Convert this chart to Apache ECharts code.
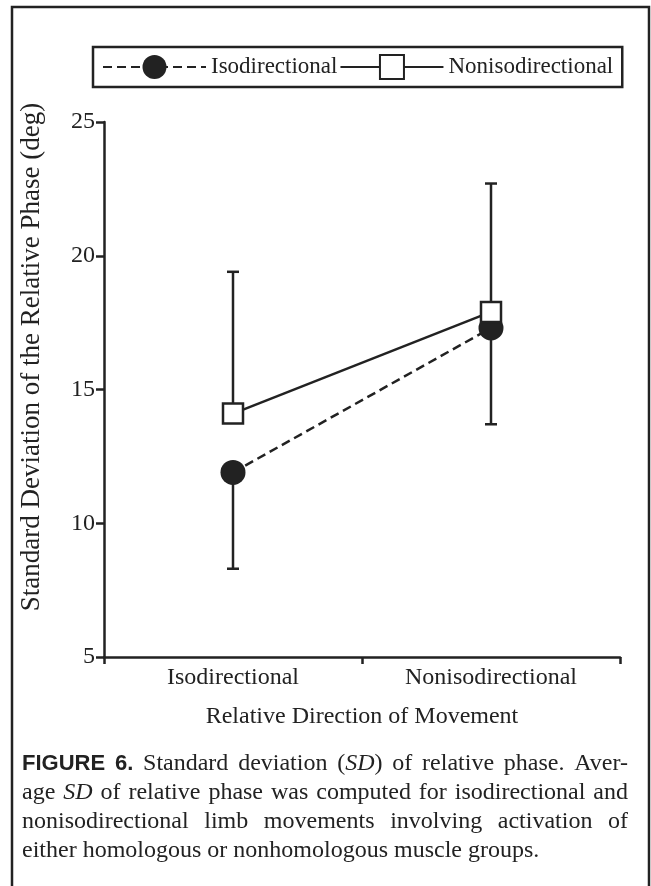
<!DOCTYPE html>
<html>
<head>
<meta charset="utf-8">
<script src="https://cdn.jsdelivr.net/npm/echarts@6/dist/echarts.min.js"></script>
<style>
  html, body { margin: 0; padding: 0; background: #fff; }
  #chart { width: 651px; height: 886px; }
</style>
</head>
<body>
<div id="chart"></div>
<script>
// Categories on the x axis
const categories = ['Isodirectional', 'Nonisodirectional'];

// Mean SD of relative phase (deg) and error-bar ends
const isoMean = [11.9, 17.3];
const isoLower = [8.3, 13.7];
const nonisoMean = [14.1, 17.9];
const nonisoUpper = [19.4, 22.7];

// Y axis range and tick step
const yMin = 5;
const yMax = 25;
const yStep = 5;

const seriesNames = ['Isodirectional', 'Nonisodirectional'];
const axisTitleX = 'Relative Direction of Movement';
const axisTitleY = 'Standard Deviation of the Relative Phase (deg)';

// Caption: words split by spaces, ^ marks bold words, _x_ marks italic pieces
const captionLines = [
  '^FIGURE ^6. Standard deviation (_SD_) of relative phase. Aver-',
  'age _SD_ of relative phase was computed for isodirectional and',
  'nonisodirectional limb movements involving activation of',
  'either homologous or nonhomologous muscle groups.'
];

const INK = '#222';
const SERIF = 'Liberation Serif';

// ---- caption layout (justified lines, last line ragged) ----
const capFonts = {
  r: { fontFamily: SERIF, fontSize: 24, fontStyle: 'normal', fontWeight: 'normal' },
  i: { fontFamily: SERIF, fontSize: 24, fontStyle: 'italic', fontWeight: 'normal' },
  b: { fontFamily: 'Liberation Sans', fontSize: 22, fontStyle: 'normal', fontWeight: 'bold' }
};
const measureCtx = document.createElement('canvas').getContext('2d');
function fontStr(f) {
  return f.fontStyle + ' ' + f.fontWeight + ' ' + f.fontSize + 'px "' + f.fontFamily + '"';
}
function measure(text, key) {
  measureCtx.font = fontStr(capFonts[key]);
  return measureCtx.measureText(text).width;
}
function parseWord(token) {
  if (token.charAt(0) === '^') return [{ t: token.slice(1), k: 'b' }];
  const runs = [];
  token.split(/(_[^_]+_)/).forEach(function (p) {
    if (!p) return;
    if (p.charAt(0) === '_' && p.charAt(p.length - 1) === '_') runs.push({ t: p.slice(1, -1), k: 'i' });
    else runs.push({ t: p, k: 'r' });
  });
  return runs;
}
const capLeft = 22, capRight = 628, capTop = 764, capLineGap = 29;
const captionGraphics = [];
captionLines.forEach(function (line, li) {
  const words = line.split(' ').map(parseWord);
  const widths = words.map(function (runs) {
    return runs.reduce(function (s, r) { return s + measure(r.t, r.k); }, 0);
  });
  const total = widths.reduce(function (a, b) { return a + b; }, 0);
  const last = li === captionLines.length - 1;
  const gap = last ? measure(' ', 'r') : (capRight - capLeft - total) / (words.length - 1);
  let x = capLeft;
  const y = capTop + li * capLineGap;
  words.forEach(function (runs) {
    runs.forEach(function (r) {
      const f = capFonts[r.k];
      captionGraphics.push({
        type: 'text', x: x, y: y, silent: true,
        style: {
          text: r.t, fill: INK,
          fontFamily: f.fontFamily, fontSize: f.fontSize,
          fontStyle: f.fontStyle, fontWeight: f.fontWeight,
          align: 'left', verticalAlign: 'middle'
        }
      });
      x += measure(r.t, r.k);
    });
    x += gap;
  });
});

// ---- error bars drawn as a custom series ----
const errorData = [];
categories.forEach(function (c, i) {
  errorData.push([i, isoMean[i], isoLower[i]]);
  errorData.push([i, nonisoMean[i], nonisoUpper[i]]);
});
function renderErrorBar(params, api) {
  const x = api.value(0);
  const p0 = api.coord([x, api.value(1)]);
  const p1 = api.coord([x, api.value(2)]);
  const half = 6;
  const st = { stroke: INK, lineWidth: 2.5 };
  return {
    type: 'group',
    children: [
      { type: 'line', shape: { x1: p0[0], y1: p0[1], x2: p1[0], y2: p1[1] }, style: st },
      { type: 'line', shape: { x1: p1[0] - half, y1: p1[1], x2: p1[0] + half, y2: p1[1] }, style: st }
    ]
  };
}

const chart = echarts.init(document.getElementById('chart'), null, { renderer: 'canvas' });
chart.setOption({
  animation: false,
  backgroundColor: '#fff',
  textStyle: { fontFamily: SERIF, color: INK },
  grid: { left: 104, right: 31, top: 122, bottom: 229, containLabel: false },
  legend: {
    data: seriesNames,
    left: 93, top: 47,
    orient: 'horizontal',
    itemWidth: 103, itemHeight: 30, itemGap: 2,
    padding: [7, 9, 7, 9],
    borderColor: INK, borderWidth: 2.5,
    selectedMode: false,
    textStyle: { fontFamily: SERIF, fontSize: 23, color: INK }
  },
  xAxis: {
    type: 'category',
    data: categories,
    boundaryGap: true,
    axisLine: { lineStyle: { color: INK, width: 2.5 } },
    axisTick: { show: true, length: 7, alignWithLabel: false, lineStyle: { color: INK, width: 2.5 } },
    axisLabel: { fontFamily: SERIF, fontSize: 24, color: INK, margin: 9 },
    splitLine: { show: false },
    name: axisTitleX,
    nameLocation: 'middle',
    nameGap: 48,
    nameTextStyle: { fontFamily: SERIF, fontSize: 24, color: INK }
  },
  yAxis: {
    type: 'value',
    min: yMin, max: yMax, interval: yStep,
    axisLine: { show: true, lineStyle: { color: INK, width: 2.5 } },
    axisTick: { show: true, length: 8, lineStyle: { color: INK, width: 2.5 } },
    axisLabel: { fontFamily: SERIF, fontSize: 24, color: INK, margin: 9 },
    splitLine: { show: false }
  },
  graphic: [
    {
      type: 'rect', silent: true, z: -1,
      shape: { x: 12, y: 7, width: 637, height: 900 },
      style: { fill: 'none', stroke: INK, lineWidth: 2.5 }
    },
    {
      type: 'text', silent: true,
      x: 32, y: 357, rotation: Math.PI / 2,
      style: {
        text: axisTitleY, fill: INK, fontFamily: SERIF, fontSize: 27,
        align: 'center', verticalAlign: 'middle'
      }
    }
  ].concat(captionGraphics),
  series: [
    {
      type: 'custom',
      renderItem: renderErrorBar,
      data: errorData,
      z: 1,
      silent: true
    },
    {
      name: seriesNames[0],
      type: 'line',
      data: isoMean,
      symbol: 'circle',
      symbolSize: 25,
      itemStyle: { color: INK },
      lineStyle: { color: INK, width: 2.5, type: [9, 5] },
      emphasis: { disabled: true },
      z: 3
    },
    {
      name: seriesNames[1],
      type: 'line',
      data: nonisoMean,
      symbol: 'rect',
      symbolSize: 20,
      itemStyle: { color: '#fff', borderColor: INK, borderWidth: 2.5 },
      lineStyle: { color: INK, width: 2.5, type: 'solid' },
      emphasis: { disabled: true },
      z: 4
    }
  ]
});
</script>
</body>
</html>
